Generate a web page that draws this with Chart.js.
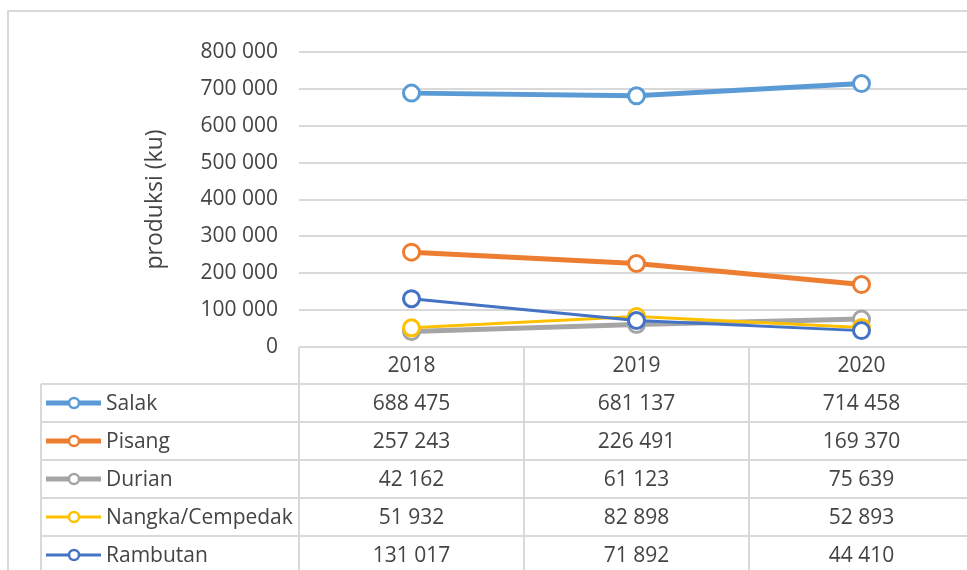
<!DOCTYPE html>
<html>
<head>
<meta charset="utf-8">
<script src="https://cdn.jsdelivr.net/npm/chart.js@4/dist/chart.umd.min.js"></script>
<style>
  html, body { margin: 0; padding: 0; background: #fff; }
  #wrap { width: 967px; height: 570px; overflow: hidden; position: relative; }
  #chart { display: block; }
</style>
</head>
<body>
<div id="wrap"><canvas id="chart" width="1000" height="570"></canvas></div>
<script>
// data
var years = ['2018', '2019', '2020'];
var seriesNames = ['Salak', 'Pisang', 'Durian', 'Nangka/Cempedak', 'Rambutan'];
var salak = [688475, 681137, 714458];
var pisang = [257243, 226491, 169370];
var durian = [42162, 61123, 75639];
var nangka = [51932, 82898, 52893];
var rambutan = [131017, 71892, 44410];
var yTicks = [0, 100000, 200000, 300000, 400000, 500000, 600000, 700000, 800000];

var colors = ['#5B9BD5', '#ED7D31', '#A5A5A5', '#FFC000', '#4472C4'];
var widths = [5, 5, 5, 3, 3];
var values = [salak, pisang, durian, nangka, rambutan];

var FONT = '"Open Sans", "Liberation Sans", sans-serif';
var TEXT = '#444444';
var GRID = '#D9D9D9';

function fmt(v) {
    return String(v).replace(/\B(?=(\d{3})+(?!\d))/g, ' ');
}

var datasets = seriesNames.map(function (name, i) {
    return {
        label: name,
        data: values[i],
        borderColor: colors[i],
        borderWidth: widths[i],
        pointRadius: 8,
        pointBorderWidth: 3,
        pointBackgroundColor: '#fff',
        pointBorderColor: colors[i],
        tension: 0,
        order: seriesNames.length - i
    };
});

// draws the outer frame and the data table under the plot
var tablePlugin = {
    id: 'dataTable',
    beforeDraw: function (chart) {
        var ctx = chart.ctx;
        ctx.save();
        ctx.strokeStyle = GRID;
        ctx.lineWidth = 2;
        ctx.strokeRect(8, 11, 2000, 2000);
        ctx.restore();
    },
    afterDraw: function (chart) {
        var ctx = chart.ctx;
        var area = chart.chartArea;
        var x = chart.scales.x;
        var half = (x.getPixelForValue(1) - x.getPixelForValue(0)) / 2;
        var tableLeft = 41;
        var top = area.bottom;
        var headH = 37;
        var rowH = 38;
        var bottom = top + headH + rowH * seriesNames.length;

        ctx.save();
        ctx.strokeStyle = GRID;
        ctx.lineWidth = 2;
        ctx.beginPath();
        ctx.moveTo(area.left, top);
        ctx.lineTo(area.right, top);
        for (var r = 0; r <= seriesNames.length; r++) {
            var yy = top + headH + r * rowH;
            ctx.moveTo(tableLeft, yy);
            ctx.lineTo(area.right, yy);
        }
        ctx.moveTo(tableLeft, top + headH);
        ctx.lineTo(tableLeft, bottom);
        for (var c = 0; c <= years.length; c++) {
            var bx = x.getPixelForValue(0) - half + c * half * 2;
            ctx.moveTo(bx, top);
            ctx.lineTo(bx, bottom);
        }
        ctx.stroke();

        ctx.font = '21px ' + FONT;
        ctx.fillStyle = TEXT;
        ctx.textBaseline = 'middle';
        ctx.textAlign = 'center';
        years.forEach(function (yr, i) {
            ctx.fillText(yr, x.getPixelForValue(i), top + headH / 2 + 1);
        });

        seriesNames.forEach(function (name, s) {
            var cy = top + headH + s * rowH + rowH / 2;
            ctx.strokeStyle = colors[s];
            ctx.lineWidth = widths[s];
            ctx.beginPath();
            ctx.moveTo(46, cy);
            ctx.lineTo(101, cy);
            ctx.stroke();
            ctx.beginPath();
            ctx.arc(74, cy, 5, 0, Math.PI * 2);
            ctx.fillStyle = '#fff';
            ctx.fill();
            ctx.lineWidth = 2.5;
            ctx.stroke();

            ctx.fillStyle = TEXT;
            ctx.textAlign = 'left';
            ctx.fillText(name, 106, cy + 1);
            ctx.textAlign = 'center';
            values[s].forEach(function (v, i) {
                ctx.fillText(fmt(v), x.getPixelForValue(i), cy + 1);
            });
        });
        ctx.restore();
    }
};

var ctx = document.getElementById('chart').getContext('2d');
var myChart = new Chart(ctx, {
    type: 'line',
    data: {
        labels: years,
        datasets: datasets
    },
    options: {
        responsive: false,
        animation: false,
        layout: {
            padding: { left: 140, top: 52, right: 26, bottom: 223 }
        },
        plugins: {
            legend: { display: false },
            tooltip: { enabled: false }
        },
        scales: {
            x: {
                display: false,
                offset: true
            },
            y: {
                min: yTicks[0],
                max: yTicks[yTicks.length - 1],
                afterFit: function (scale) { scale.width = 159; },
                afterBuildTicks: function (scale) {
                    scale.ticks = yTicks.map(function (v) { return { value: v }; });
                },
                border: { display: false },
                grid: { color: GRID, lineWidth: 2, drawTicks: false },
                ticks: {
                    padding: 21,
                    color: TEXT,
                    font: { family: FONT, size: 21 },
                    callback: function (v) { return fmt(v); }
                },
                title: {
                    display: true,
                    text: 'produksi (ku)',
                    color: TEXT,
                    font: { family: FONT, size: 23 },
                    padding: { top: 2, bottom: 0 }
                }
            }
        }
    },
    plugins: [tablePlugin]
});
</script>
</body>
</html>
